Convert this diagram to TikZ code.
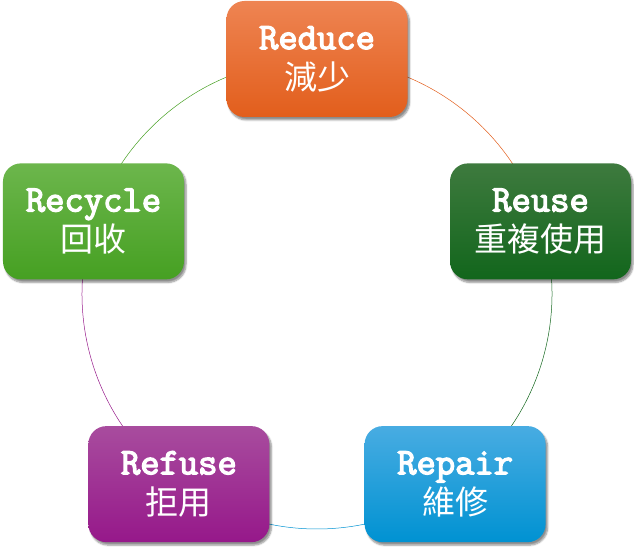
\documentclass[tikz,border=0pt]{standalone}
\usepackage{fontspec}
\newfontfamily\cjk{Noto Sans CJK TC}
\newfontfamily\monob[FakeBold=3.5]{Latin Modern Mono}
\usepackage{tikz}
\usetikzlibrary{positioning,calc,shadows.blur}
\pgfdeclarelayer{background}
\pgfsetlayers{background,main}

\newcommand{\eng}[1]{{\monob\fontsize{37.5}{40}\selectfont #1}}

\definecolor{reducetop}{RGB}{238,132,82}
\definecolor{reducebot}{RGB}{226,94,28}
\definecolor{reusetop}{RGB}{62,122,62}
\definecolor{reusebot}{RGB}{18,102,28}
\definecolor{repairtop}{RGB}{72,172,226}
\definecolor{repairbot}{RGB}{0,146,210}
\definecolor{refusetop}{RGB}{168,76,158}
\definecolor{refusebot}{RGB}{150,24,138}
\definecolor{recycletop}{RGB}{108,182,76}
\definecolor{recyclebot}{RGB}{70,160,34}

\begin{document}
\begin{tikzpicture}[x=1pt, y=1pt]
        \tikzset{
            block/.style={rectangle, rounded corners=18pt, minimum width=181pt, minimum height=116pt, align=center, text=white, shading=axis, font=\fontsize{33}{40}\selectfont, inner sep=0pt, blur shadow={shadow xshift=2pt, shadow yshift=-3pt, shadow blur steps=6, shadow opacity=45}},
            ring/.style={line width=0.5pt}
        }
        \useasboundingbox (0,0) rectangle (634,551);
        \coordinate (c) at (317,257);

        % Nodes
        \node [block, top color=reducetop, bottom color=reducebot] (reduce) at ($(c)+(90:235)$) {\eng{Reduce}\\{\cjk 減少}};
        \node [block, top color=reusetop, bottom color=reusebot] (reuse) at ($(c)+(18:235)$) {\eng{Reuse}\\{\cjk 重複使用}};
        \node [block, top color=repairtop, bottom color=repairbot] (repair) at ($(c)+(-54:235)$) {\eng{Repair}\\{\cjk 維修}};
        \node [block, top color=refusetop, bottom color=refusebot] (refuse) at ($(c)+(-126:235)$) {\eng{Refuse}\\{\cjk 拒用}};
        \node [block, top color=recycletop, bottom color=recyclebot] (recycle) at ($(c)+(162:235)$) {\eng{Recycle}\\{\cjk 回收}};

        % Connections
        \begin{pgfonlayer}{background}
        \draw [ring, reducebot] (reduce.center) arc[start angle=90, end angle=18, radius=235];
        \draw [ring, reusebot] (reuse.center) arc[start angle=18, end angle=-54, radius=235];
        \draw [ring, repairbot] (repair.center) arc[start angle=-54, end angle=-126, radius=235];
        \draw [ring, refusebot] (refuse.center) arc[start angle=-126, end angle=-198, radius=235];
        \draw [ring, recyclebot] (recycle.center) arc[start angle=162, end angle=90, radius=235];
        \end{pgfonlayer}
    \end{tikzpicture}
\end{document}
